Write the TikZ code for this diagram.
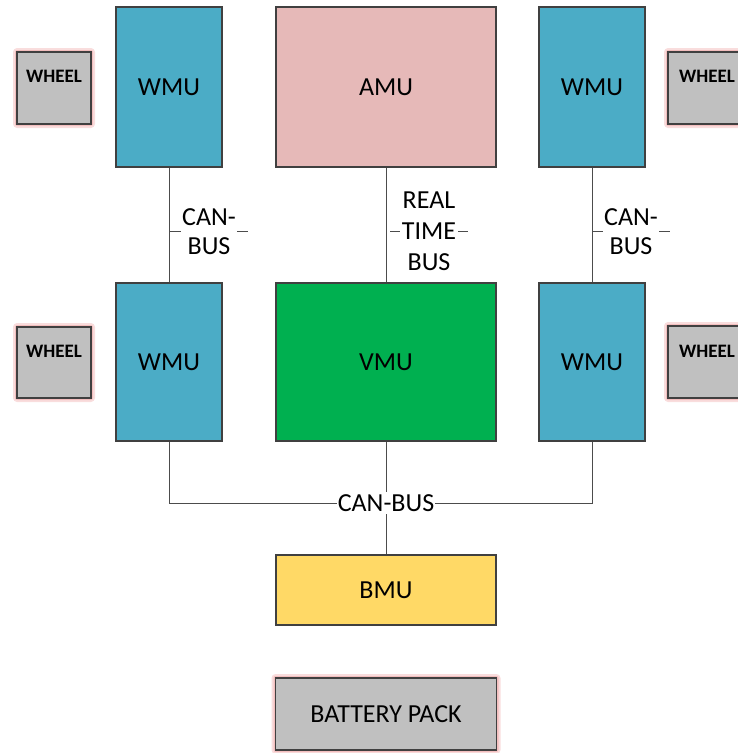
\documentclass[tikz,border=0pt]{standalone}
\usepackage{fontspec}
\setmainfont{Carlito}
\begin{document}
\begin{tikzpicture}[x=1pt,y=-1pt,
  box/.style={draw=black!75, line width=1.1pt, rectangle, inner sep=0pt, font=\fontsize{26}{30}\selectfont},
  wmu/.style={box, fill=wmublue, minimum width=106pt, minimum height=160pt},
  wide/.style={box, minimum width=220pt},
  wheelbox/.style={draw=black!75, line width=1.1pt, fill=wheelgrey, rectangle, minimum width=74pt, minimum height=72pt},
  wheeltext/.style={font=\fontsize{19}{22}\bfseries\selectfont, inner sep=0pt},
  bus/.style={draw=black!70, line width=1pt},
  buslabel/.style={fill=white, inner xsep=1.5pt, inner ysep=0pt, align=center, font=\fontsize{26}{29}\selectfont}
]
\definecolor{wmublue}{HTML}{4BACC6}
\definecolor{amupink}{HTML}{E6B9B8}
\definecolor{vmugreen}{HTML}{00B050}
\definecolor{bmuyellow}{HTML}{FFD966}
\definecolor{wheelgrey}{HTML}{C0C0C0}
\definecolor{glow}{HTML}{EFA9A9}
\useasboundingbox (0,0) rectangle (738,753);
\clip (0,0) rectangle (738,753);

% glows
\foreach \cx/\cy/\w/\h in {54/88/74/72, 54/362.5/74/71, 705/88/74/72, 705/362/74/72, 386/714/221/72}{
  \fill[glow, opacity=0.4, rounded corners=4pt] (\cx-\w/2-4,\cy-\h/2-4) rectangle (\cx+\w/2+4,\cy+\h/2+4);
  \fill[glow, opacity=0.6, rounded corners=2pt] (\cx-\w/2-2,\cy-\h/2-2) rectangle (\cx+\w/2+2,\cy+\h/2+2);
}

% boxes
\node[wmu] (wmutl) at (169,87) {WMU};
\node[wide, fill=amupink, minimum height=160pt] (amu) at (386,87) {AMU};
\node[wmu] (wmutr) at (592,87) {WMU};
\node[wmu, minimum height=158pt] (wmuml) at (169,362) {WMU};
\node[wide, fill=vmugreen, minimum height=158pt] (vmu) at (386,362) {VMU};
\node[wmu, minimum height=158pt] (wmumr) at (592,362) {WMU};
\node[wide, fill=bmuyellow, minimum height=70pt] (bmu) at (386,590) {BMU};
\node[box, fill=wheelgrey, minimum width=221pt, minimum height=72pt] (pack) at (386,714) {BATTERY PACK};

% wheels
\node[wheelbox] (wtl) at (54,88) {};
\node[wheeltext] (wtltext) at (54,76) {WHEEL};
\node[wheelbox, minimum height=71pt] (wml) at (54,362.5) {};
\node[wheeltext] (wmltext) at (54,351) {WHEEL};
\node[wheelbox] (wtr) at (705,88) {};
\node[wheeltext] (wtrtext) at (707,76) {WHEEL};
\node[wheelbox] (wmr) at (705,362) {};
\node[wheeltext] (wmrtext) at (707,351) {WHEEL};

% vertical buses
\draw[bus] (wmutl.south) -- (wmuml.north);
\draw[bus] (amu.south) -- (vmu.north);
\draw[bus] (wmutr.south) -- (wmumr.north);

% label dashes
\coordinate (la) at (170,231); \coordinate (lb) at (248,231);
\coordinate (ma) at (390,231); \coordinate (mb) at (468,231);
\coordinate (ra) at (593,231); \coordinate (rb) at (670,231);
\draw[bus] (la) -- (lb);
\draw[bus] (ma) -- (mb);
\draw[bus] (ra) -- (rb);
\node[buslabel] (lbl1) at (209,232) {CAN-\\BUS};
\node[buslabel, font=\fontsize{26}{31}\selectfont] (lbl2) at (429,231) {REAL\\TIME\\BUS};
\node[buslabel] (lbl3) at (631,232) {CAN-\\BUS};

% bottom bus
\coordinate (jl) at (169,503);
\coordinate (jr) at (592,503);
\coordinate (jm) at (386,503);
\draw[bus] (wmuml.south) -- (jl) -- (jr) -- (wmumr.south);
\draw[bus] (vmu.south) -- (bmu.north);
\node[buslabel, inner xsep=1pt, inner ysep=2pt] (lbl4) at (jm) {CAN-BUS};
\end{tikzpicture}
\end{document}
